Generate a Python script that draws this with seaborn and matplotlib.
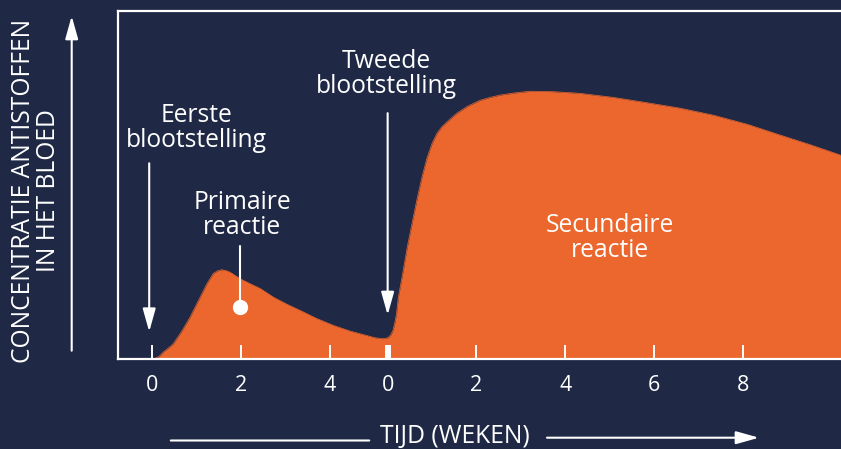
import matplotlib
matplotlib.use("Agg")
import matplotlib.pyplot as plt
import seaborn as sns

# colours of the original infographic
navy = "#1f2946"
orange = "#eb672d"
white = "#ffffff"

# weeks on one continuous axis; the second exposure happens at week 5.3
second_exposure = 5.3
time = [0.06, 0.15, 0.25, 0.36, 0.47, 0.66, 0.85, 1.04, 1.23, 1.37,
        1.47, 1.56, 1.65, 1.75, 1.86, 1.98, 2.20, 2.43, 2.73, 3.03,
        3.33, 3.70, 4.08, 4.45, 4.83, 5.00, 5.17, 5.25, 5.31, 5.37,
        5.42, 5.46, 5.50, 5.54, 5.64, 5.74, 5.86, 5.97, 6.08, 6.19,
        6.30, 6.41, 6.52, 6.63, 6.75, 6.86, 7.10, 7.38, 7.60, 7.83,
        8.15, 8.51, 9.00, 9.63, 10.40, 11.14, 11.90, 12.64, 13.40, 14.14,
        14.80, 15.51]
concentration = [0, 0.6, 1.9, 3.0, 4.2, 7.8, 11.9, 16.7, 21.5, 24.4,
                 25.2, 25.5, 25.3, 24.8, 23.9, 22.9, 21.5, 20.1, 17.6, 15.6,
                 13.8, 11.5, 9.5, 7.9, 6.6, 6.0, 5.7, 5.8, 6.0, 6.8,
                 8.1, 10.2, 12.9, 17.6, 24.5, 31.9, 39.5, 46.3, 52.5, 57.8,
                 61.8, 64.7, 66.6, 67.9, 69.3, 70.5, 72.5, 74.2, 75.0, 75.7,
                 76.3, 76.8, 76.7, 76.2, 75.0, 73.5, 71.9, 69.9, 67.3, 64.2,
                 61.5, 58.4]

tick_pos = [0, 2, 4, second_exposure, second_exposure + 2, second_exposure + 4,
            second_exposure + 6, second_exposure + 8]
tick_labels = ["0", "2", "4", "0", "2", "4", "6", "8"]

sns.set_theme(style="white")
plt.rcParams["font.family"] = ["Open Sans", "DejaVu Sans"]

fs = 17.7

fig = plt.figure(figsize=(8.41, 4.49), dpi=100, facecolor=navy)
ax = fig.add_axes([117.5 / 841, (449 - 358.5) / 449, 1 - 117.5 / 841, 348 / 449])
ax.set_facecolor(navy)
ax.set_axisbelow(False)  # ticks must sit on top of the orange area

# the antibody curve, filled down to zero
sns.lineplot(x=time, y=concentration, color=orange, lw=0.5, ax=ax)
ax.fill_between(time, concentration, 0, color=orange, lw=0)

ax.set_xlim(-0.784, 15.51)
ax.set_ylim(0, 100)

# spines
for side in ["left", "bottom", "top"]:
    ax.spines[side].set_color(white)
    ax.spines[side].set_linewidth(1.6)
ax.spines["right"].set_visible(False)

# ticks
ax.set_yticks([])
ax.set_xticks(tick_pos, tick_labels)
ax.tick_params(axis="x", which="both", bottom=True, top=False)
ax.tick_params(axis="x", direction="in", length=10, width=1.4, color=white,
               labelcolor=white, labelsize=15.5, pad=12)
ax.xaxis.get_major_ticks()[3].tick1line.set_markeredgewidth(4.3)
ax.set_xticks([second_exposure], [""], minor=True)
ax.tick_params(axis="x", which="minor", direction="out", length=5, width=4.3,
               color=white)
ax.set_xlabel("")
ax.set_ylabel("")

arrow = dict(arrowstyle="-|>,head_length=1.0,head_width=0.28", color=white,
             lw=1.5, mutation_scale=14, shrinkA=0, shrinkB=0)

# exposures
ax.annotate("", xy=(-0.07, 7.7), xytext=(-0.07, 56.1), arrowprops=arrow)
ax.annotate("", xy=(second_exposure, 12.5), xytext=(second_exposure, 70.5),
            arrowprops=arrow)
ax.text(0.99, 66.2, "Eerste\nblootstelling", color=white, fontsize=fs,
        ha="center", va="center", linespacing=1.0)
ax.text(5.27, 81.7, "Tweede\nblootstelling", color=white, fontsize=fs,
        ha="center", va="center", linespacing=1.0)

# primary response pointer
ax.plot([1.98, 1.98], [32.2, 14.8], color=white, lw=1.5)
ax.plot([1.98], [14.8], "o", color=white, markersize=10)
ax.text(2.02, 41.2, "Primaire\nreactie", color=white, fontsize=fs,
        ha="center", va="center", linespacing=1.0)
ax.text(10.31, 34.5, "Secundaire\nreactie", color=white, fontsize=fs,
        ha="center", va="center", linespacing=1.0)

# axis titles with arrows
fig.text(36 / 841, 1 - 191 / 449, "CONCENTRATIE ANTISTOFFEN\nIN HET BLOED",
         color=white, fontsize=fs, rotation=90, ha="center", va="center",
         multialignment="center", linespacing=1.0)
ax.annotate("", xy=(71.7, 449 - 16), xytext=(71.7, 449 - 350.7),
            xycoords="figure pixels", textcoords="figure pixels",
            arrowprops=arrow, annotation_clip=False)

fig.text(455 / 841, 1 - 437 / 449, "TIJD (WEKEN)", color=white, fontsize=fs,
         ha="center", va="center")
ax.annotate("", xy=(372, 449 - 440.5), xytext=(168, 449 - 440.5),
            xycoords="figure pixels", textcoords="figure pixels",
            arrowprops=dict(arrowstyle="-", color=white, lw=1.5),
            annotation_clip=False)
ax.annotate("", xy=(759, 449 - 437.7), xytext=(547, 449 - 437.7),
            xycoords="figure pixels", textcoords="figure pixels",
            arrowprops=arrow, annotation_clip=False)

fig.savefig("out.png", dpi=100, facecolor=navy)
